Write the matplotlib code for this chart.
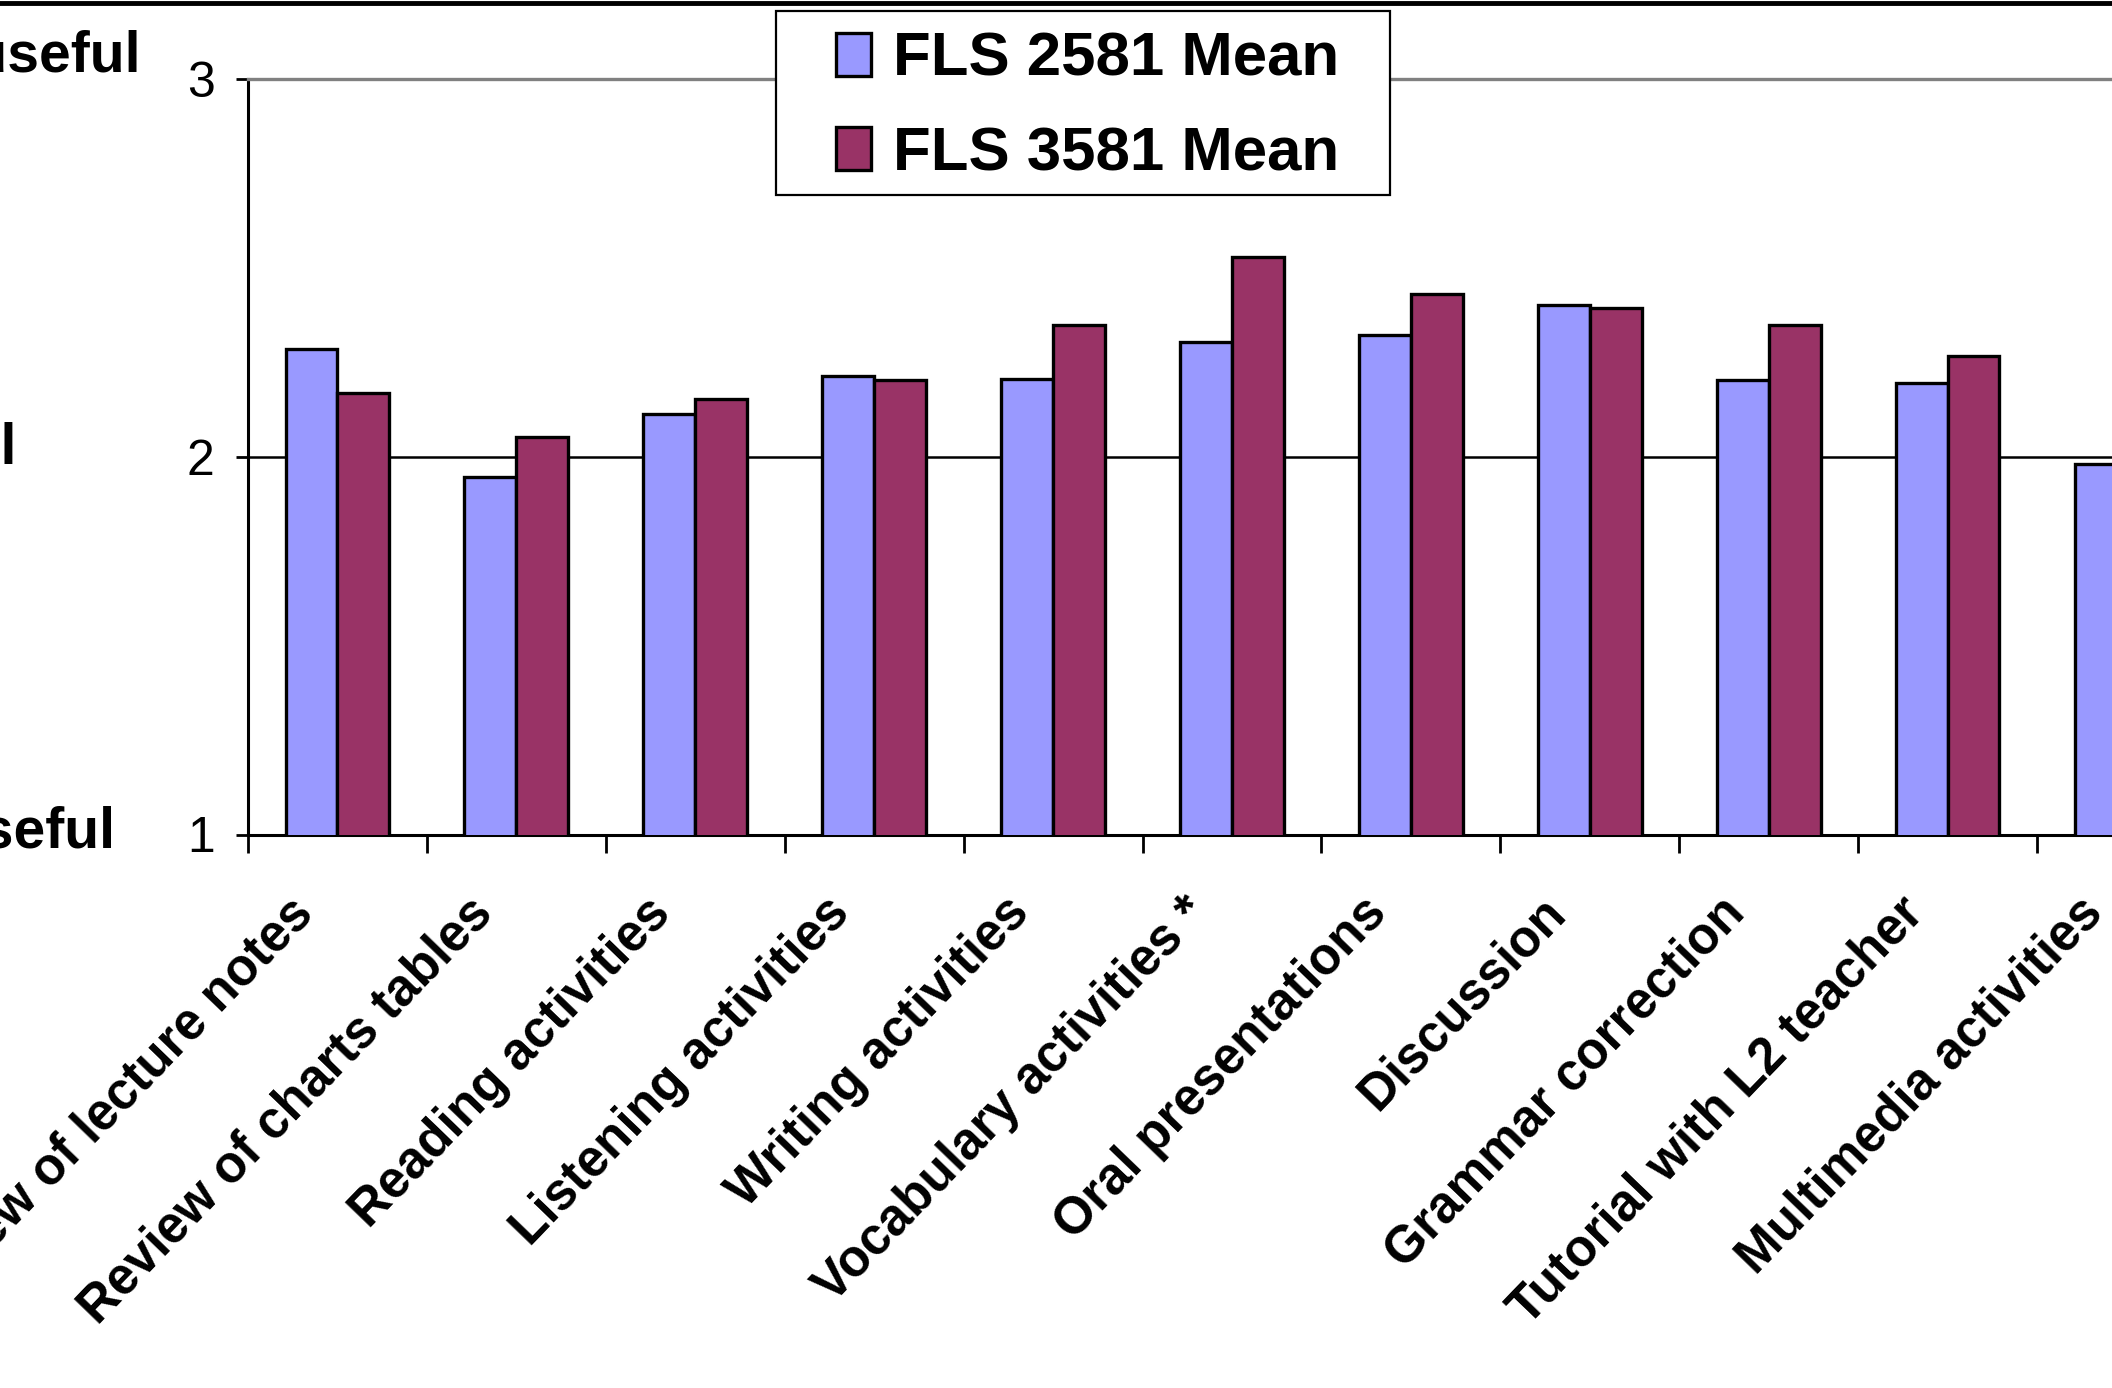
import numpy as np
import matplotlib
matplotlib.use("Agg")
import matplotlib.pyplot as plt
from matplotlib.patches import Rectangle
from matplotlib.lines import Line2D
from matplotlib.transforms import ScaledTranslation

# ------------
# > Data <
# ------------
activities = [
    "Review of lecture notes",
    "Review of charts tables",
    "Reading activities",
    "Listening activities",
    "Writing activities",
    "Vocabulary activities *",
    "Oral presentations",
    "Discussion",
    "Grammar correction",
    "Tutorial with L2 teacher",
    "Multimedia activities",
]
fls2581_mean = [2.284, 1.946, 2.114, 2.213, 2.205, 2.303, 2.323, 2.403, 2.204, 2.194, 1.981]
fls3581_mean = [2.168, 2.053, 2.152, 2.204, 2.349, 2.528, 2.432, 2.394, 2.348, 2.267, np.nan]
series_names = ["FLS 2581 Mean", "FLS 3581 Mean"]
scale_labels = ["Very useful", "Useful", "Not useful"]

BLUE = "#9999FF"
PLUM = "#993366"
FONT = "Liberation Sans"

W, H = 2112, 1388
fig = plt.figure(figsize=(W / 100, H / 100), dpi=100)
fig.patch.set_facecolor("white")

# plot area in pixels: y=1 at 834.5, y=3 at 79, one category = 178.9 px
left_px, bottom_px, top_px, cat_px = 248, 834.5, 79, 178.9
n = len(activities)
ax = fig.add_axes([left_px / W, (H - bottom_px) / H,
                   n * cat_px / W, (bottom_px - top_px) / H])

x = np.arange(n)
width = 0.29
b1 = ax.bar(x - width / 2, fls2581_mean, width, bottom=0, color=BLUE,
            edgecolor="black", linewidth=2.4, zorder=3)
b2 = ax.bar(x + width / 2, fls3581_mean, width, bottom=0, color=PLUM,
            edgecolor="black", linewidth=2.4, zorder=3)

ax.set_xlim(-0.5, n - 0.5)
ax.set_ylim(1, 3)
ax.axhline(2, color="black", linewidth=1.8, zorder=1)

ax.spines["right"].set_visible(False)
ax.spines["top"].set_color("#808080")
ax.spines["top"].set_linewidth(2.4)
ax.spines["left"].set_linewidth(2.2)
ax.spines["bottom"].set_linewidth(2.2)

# y axis
ax.set_yticks([1, 2, 3])
ax.set_yticklabels(["1", "2", "3"], family=FONT, fontsize=36)
ax.tick_params(axis="y", direction="out", length=9, width=2, pad=15)

# x axis: ticks on category boundaries, labels on centers
ax.set_xticks(np.arange(-0.5, n, 1.0))
ax.set_xticklabels([])
ax.tick_params(axis="x", which="major", direction="out", length=13, width=2)
ax.set_xticks(x, minor=True)
ax.set_xticklabels(activities, minor=True, rotation=46, ha="right", va="center",
                   rotation_mode="anchor", family=FONT, fontsize=37,
                   fontweight="bold")
ax.tick_params(axis="x", which="minor", length=0, pad=51)
shift = ScaledTranslation(-0.32, 0, fig.dpi_scale_trans)
for lbl in ax.get_xticklabels(minor=True):
    lbl.set_transform(lbl.get_transform() + shift)

# scale wording left of the axis
label_right = [140, 17, 115]
label_baselines = [72, 463, 848]
for text, xr, yb in zip(scale_labels, label_right, label_baselines):
    fig.text(xr / W, 1 - yb / H, text, ha="right", va="baseline",
             family=FONT, fontsize=41, fontweight="bold")

# heavy rule across the top
fig.add_artist(Line2D([0, 1], [1 - 2.5 / H, 1 - 2.5 / H], transform=fig.transFigure,
                      color="black", linewidth=3.5, zorder=1))

# legend box
fig.add_artist(Rectangle((776 / W, 1 - 195 / H), (1390 - 776) / W, (195 - 11) / H,
                         transform=fig.transFigure, facecolor="white",
                         edgecolor="black", linewidth=1.6, zorder=1))
leg = fig.legend([b1, b2], series_names, loc="upper left",
                 bbox_to_anchor=(836 / W, 1 - 32 / H), frameon=False,
                 borderpad=0, borderaxespad=0, handlelength=0.56,
                 handleheight=0.68, handletextpad=0.36, labelspacing=0.6,
                 prop={"family": FONT, "size": 44.5, "weight": "bold"})
leg.set_zorder(2)

fig.savefig("out.png", dpi=100)
